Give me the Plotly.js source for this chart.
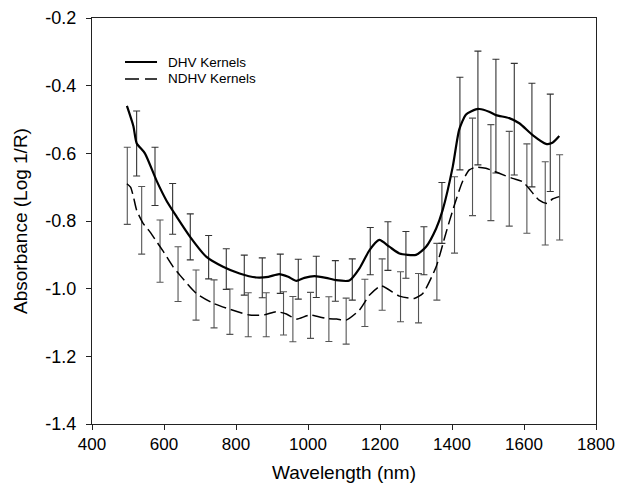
<!DOCTYPE html>
<html>
<head>
<meta charset="utf-8">
<script src="https://cdn.plot.ly/plotly-3.0.1.min.js"></script>
<style>html,body{margin:0;padding:0;background:#fff;}#chart{width:619px;height:496px;}</style>
</head>
<body>
<div id="chart"></div>
<script>
// DHV Kernels mean spectrum
const dhvWl = [497, 515, 524, 547, 579, 607, 635, 672, 718, 764, 810, 857, 890, 920, 945, 968, 990, 1018, 1050, 1078, 1115, 1143, 1171, 1198, 1226, 1254, 1300, 1328, 1356, 1374, 1402, 1420, 1439, 1466, 1476, 1503, 1522, 1559, 1587, 1624, 1661, 1679, 1698];
const dhvAbs = [-0.46, -0.52, -0.57, -0.60, -0.68, -0.74, -0.787, -0.846, -0.906, -0.935, -0.955, -0.967, -0.965, -0.957, -0.965, -0.977, -0.968, -0.963, -0.968, -0.975, -0.976, -0.94, -0.886, -0.856, -0.876, -0.896, -0.90, -0.876, -0.822, -0.768, -0.64, -0.53, -0.485, -0.47, -0.469, -0.477, -0.487, -0.496, -0.511, -0.546, -0.572, -0.569, -0.549];

// NDHV Kernels mean spectrum
const ndhvWl = [497, 507, 515, 524, 542, 561, 570, 598, 625, 644, 690, 736, 783, 838, 880, 912, 940, 968, 1004, 1051, 1080, 1106, 1143, 1171, 1203, 1254, 1295, 1319, 1356, 1383, 1406, 1429, 1448, 1466, 1494, 1531, 1568, 1596, 1642, 1665, 1679, 1698];
const ndhvAbs = [-0.69, -0.70, -0.728, -0.768, -0.807, -0.832, -0.846, -0.89, -0.935, -0.96, -1.014, -1.043, -1.061, -1.078, -1.077, -1.068, -1.075, -1.09, -1.078, -1.088, -1.09, -1.093, -1.063, -1.019, -0.992, -1.022, -1.029, -1.014, -0.935, -0.836, -0.755, -0.684, -0.649, -0.641, -0.644, -0.659, -0.674, -0.684, -0.738, -0.748, -0.735, -0.728];

// Error bars (standard deviation) for DHV
const dhvBarWl = [524, 575, 624, 673, 724, 773, 823, 873, 923, 973, 1023, 1076, 1123, 1173, 1222, 1272, 1322, 1372, 1422, 1472, 1522, 1573, 1622, 1673];
const dhvBarMid = [-0.571, -0.668, -0.764, -0.847, -0.907, -0.942, -0.96, -0.968, -0.956, -0.972, -0.965, -0.977, -0.973, -0.889, -0.874, -0.90, -0.888, -0.776, -0.512, -0.466, -0.49, -0.499, -0.546, -0.569];
const dhvBarErr = [0.096, 0.086, 0.075, 0.068, 0.064, 0.06, 0.059, 0.059, 0.058, 0.059, 0.061, 0.06, 0.061, 0.07, 0.072, 0.069, 0.071, 0.09, 0.137, 0.168, 0.168, 0.165, 0.153, 0.144];

// Error bars for NDHV
const ndhvBarWl = [498, 538, 589, 639, 689, 739, 783, 834, 884, 932, 958, 1007, 1058, 1106, 1158, 1206, 1257, 1307, 1358, 1407, 1457, 1508, 1559, 1608, 1659, 1699];
const ndhvBarMid = [-0.696, -0.798, -0.889, -0.957, -1.019, -1.045, -1.068, -1.077, -1.077, -1.073, -1.09, -1.079, -1.09, -1.096, -1.042, -0.988, -1.024, -1.028, -0.95, -0.782, -0.64, -0.657, -0.675, -0.704, -0.748, -0.73];
const ndhvBarErr = [0.114, 0.1, 0.092, 0.081, 0.074, 0.071, 0.067, 0.065, 0.065, 0.064, 0.067, 0.068, 0.066, 0.068, 0.07, 0.076, 0.074, 0.073, 0.084, 0.113, 0.144, 0.142, 0.14, 0.132, 0.123, 0.126];

const xTicks = [400, 600, 800, 1000, 1200, 1400, 1600, 1800];
const yTicks = [-1.4, -1.2, -1.0, -0.8, -0.6, -0.4, -0.2];
const yTickText = ["-1.4", "-1.2", "-1.0", "-0.8", "-0.6", "-0.4", "-0.2"];
const seriesNames = ["DHV Kernels", "NDHV Kernels"];

const FONT = "Arial, 'Liberation Sans', sans-serif";

const traces = [
  {
    x: ndhvBarWl, y: ndhvBarMid, type: 'scatter', mode: 'markers',
    marker: {size: 1, opacity: 0}, showlegend: false, hoverinfo: 'skip',
    error_y: {type: 'data', array: ndhvBarErr, visible: true, color: '#555', thickness: 1.1, width: 3.5}
  },
  {
    x: dhvBarWl, y: dhvBarMid, type: 'scatter', mode: 'markers',
    marker: {size: 1, opacity: 0}, showlegend: false, hoverinfo: 'skip',
    error_y: {type: 'data', array: dhvBarErr, visible: true, color: '#333', thickness: 1.1, width: 3.5}
  },
  {
    x: dhvWl, y: dhvAbs, type: 'scatter', mode: 'lines', name: seriesNames[0], showlegend: false,
    line: {color: '#000', width: 2.2, shape: 'spline', smoothing: 0.6}
  },
  {
    x: ndhvWl, y: ndhvAbs, type: 'scatter', mode: 'lines', name: seriesNames[1], showlegend: false,
    line: {color: '#000', width: 1.5, dash: '12px,5px', shape: 'spline', smoothing: 0.6}
  }
];

// manual legend (paper coordinates)
const legX0 = 0.0655, legX1 = 0.129, legTextX = 0.147;
const legRows = [0.8916, 0.8498];
const shapes = [
  {type: 'line', xref: 'paper', yref: 'paper', x0: legX0, x1: legX1, y0: legRows[0], y1: legRows[0], line: {color: '#000', width: 2.2}},
  {type: 'line', xref: 'paper', yref: 'paper', x0: legX0, x1: legX1, y0: legRows[1], y1: legRows[1], line: {color: '#000', width: 1.5, dash: '14px,6px'}}
];
const annotations = seriesNames.map((t, i) => ({
  text: t, xref: 'paper', yref: 'paper', x: legTextX, y: legRows[i],
  xanchor: 'left', yanchor: 'middle', showarrow: false,
  font: {family: FONT, size: 13.5, color: '#000'}
}));

const layout = {
  width: 619, height: 496,
  margin: {l: 92, r: 23, t: 18, b: 72},
  paper_bgcolor: '#fff', plot_bgcolor: '#fff',
  font: {family: FONT, color: '#000', size: 17},
  showlegend: false,
  shapes: shapes,
  annotations: annotations,
  xaxis: {
    range: [400, 1800], tickvals: xTicks, ticktext: xTicks.map(String),
    ticks: 'outside', ticklen: 5, tickcolor: '#222', tickwidth: 1,
    showline: true, linecolor: '#222', linewidth: 1, mirror: true,
    showgrid: false, zeroline: false,
    tickfont: {family: FONT, size: 17, color: '#000'},
    title: {text: 'Wavelength (nm)', font: {family: FONT, size: 19, color: '#000'}, standoff: 12}
  },
  yaxis: {
    range: [-1.4, -0.2], tickvals: yTicks, ticktext: yTickText,
    ticks: 'outside', ticklen: 5, tickcolor: '#222', tickwidth: 1,
    ticklabelstandoff: 6,
    showline: true, linecolor: '#222', linewidth: 1, mirror: true,
    showgrid: false, zeroline: false,
    tickfont: {family: FONT, size: 18, color: '#000'},
    title: {text: 'Absorbance (Log 1/R)', font: {family: FONT, size: 19, color: '#000'}, standoff: 12}
  }
};

Plotly.newPlot('chart', traces, layout, {staticPlot: true, displayModeBar: false});
</script>
</body>
</html>
